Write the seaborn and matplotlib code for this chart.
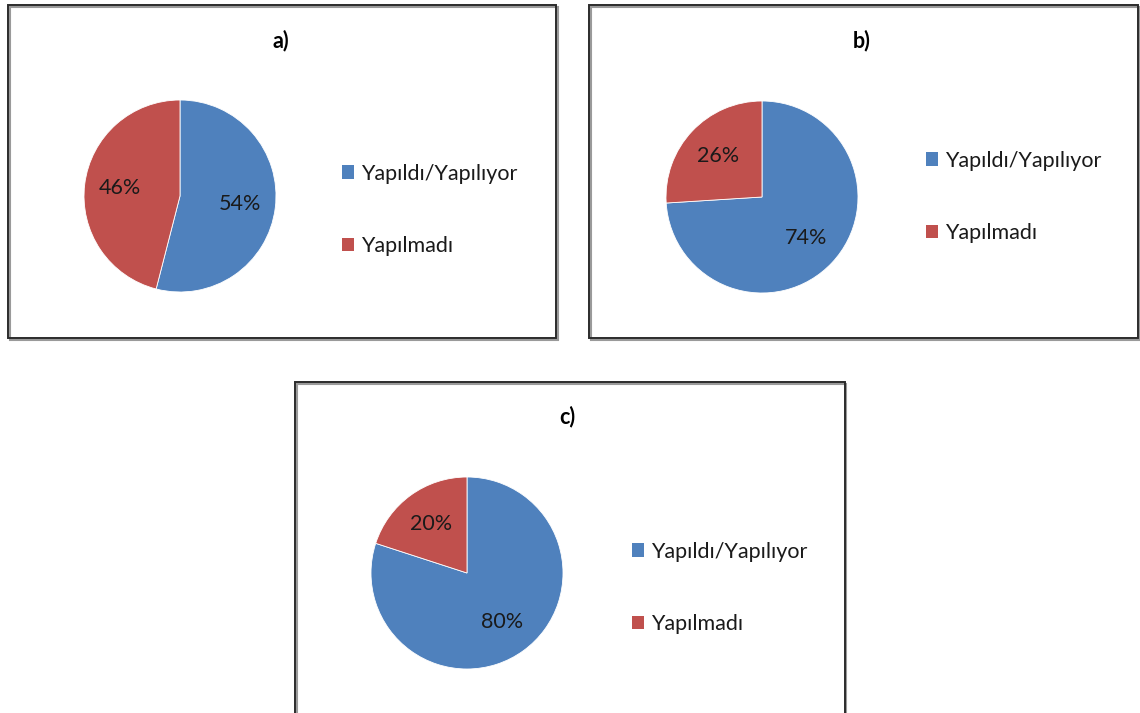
import matplotlib
matplotlib.use("Agg")
import matplotlib.pyplot as plt
from matplotlib.patches import Rectangle, Patch
import seaborn as sns

# Data
panel_titles = ["a)", "b)", "c)"]
categories = ["Yapıldı/Yapılıyor", "Yapılmadı"]
shares_a = [54, 46]
shares_b = [74, 26]
shares_c = [80, 20]
panel_values = [shares_a, shares_b, shares_c]

sns.set_theme(style="white")
plt.rcParams["font.family"] = ["Lato", "DejaVu Sans"]
colors = sns.color_palette(["#4F81BD", "#C0504D"])

W, H = 1140, 713
fig = plt.figure(figsize=(W / 100, H / 100), dpi=100)
fig.patch.set_facecolor("white")


def fx(px):
    return px / W


def fy(py):
    return 1 - py / H


# panel layout in pixels: box (x0, y0, x1, y1), pie centre, title pos, legend anchor
layouts = [
    dict(box=(8, 5, 556, 338), centre=(180, 196), title=(281, 41), legend=(342, 210)),
    dict(box=(589, 5, 1138, 338), centre=(762, 197), title=(862, 41), legend=(926, 197)),
    dict(box=(295, 382, 845, 730), centre=(467, 573), title=(567, 417), legend=(632, 588)),
]
R = 96
FS = 15.5

for lay, title, vals in zip(layouts, panel_titles, panel_values):
    x0, y0, x1, y1 = lay["box"]
    # shadow then border
    fig.patches.append(Rectangle((fx(x0 + 1.5), fy(y1 + 1.5)), fx(x1 - x0), (y1 - y0) / H,
                                 transform=fig.transFigure, fill=False,
                                 edgecolor="#9a9a9a", linewidth=1.5, zorder=0))
    fig.patches.append(Rectangle((fx(x0), fy(y1)), fx(x1 - x0), (y1 - y0) / H,
                                 transform=fig.transFigure, fill=False,
                                 edgecolor="#2b2b2b", linewidth=1.4, zorder=1))

    cx, cy = lay["centre"]
    ax = fig.add_axes([fx(cx - R), fy(cy + R), fx(2 * R), 2 * R / H])
    wedges, _, autotexts = ax.pie(
        vals, colors=colors, startangle=90, counterclock=False,
        autopct=lambda p: f"{p:.0f}%", pctdistance=0.63,
        wedgeprops=dict(linewidth=0.6, edgecolor="white"),
        textprops=dict(fontsize=FS, color="#1a1a1a"),
    )
    ax.set_xlim(-1, 1)
    ax.set_ylim(-1, 1)
    ax.set_aspect("equal")
    ax.axis("off")

    tx, ty = lay["title"]
    fig.text(fx(tx), fy(ty), title, ha="center", va="center",
             fontsize=FS, fontweight="bold", color="black")

    lx, ly = lay["legend"]
    handles = [Patch(facecolor=c, edgecolor="none") for c in colors]
    fig.legend(handles, categories, loc="center left",
               bbox_to_anchor=(fx(lx), fy(ly)), frameon=False,
               fontsize=FS, labelspacing=2.45, handlelength=0.58,
               handleheight=0.58, handletextpad=0.3, borderpad=0,
               borderaxespad=0, labelcolor="#1a1a1a")

fig.savefig("out.png", dpi=100, facecolor="white")
